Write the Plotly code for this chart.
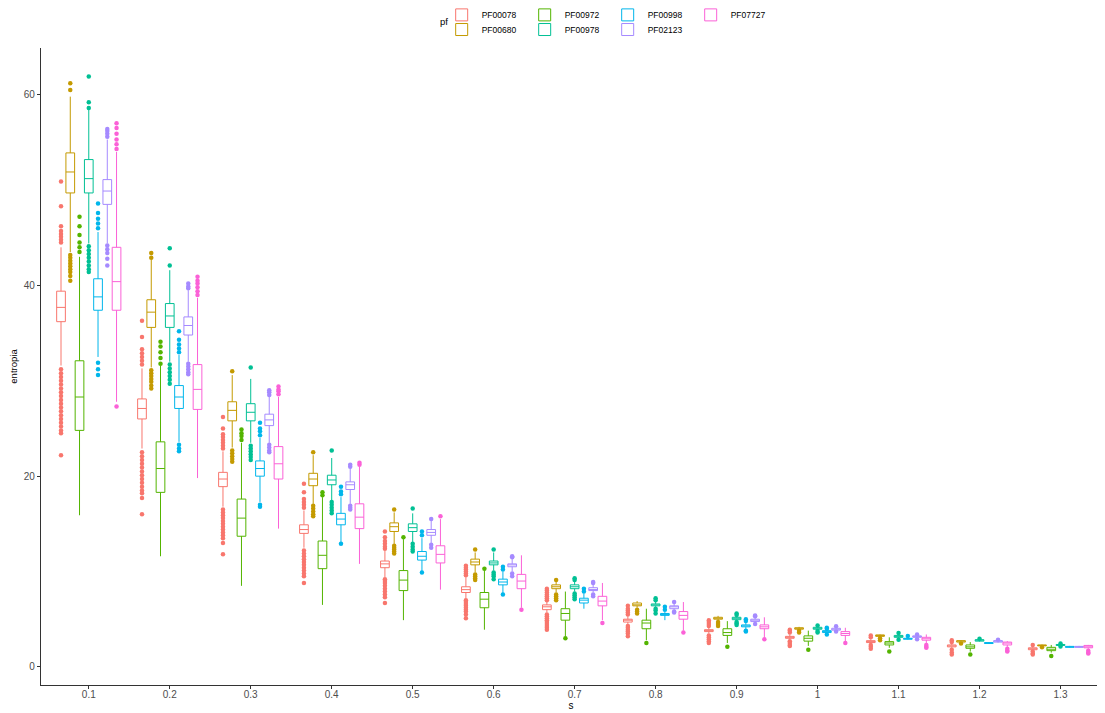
import plotly.graph_objects as go

s_labels = ["0.1", "0.2", "0.3", "0.4", "0.5", "0.6", "0.7", "0.8", "0.9", "1", "1.1", "1.2", "1.3"]
pf_names = ["PF00078", "PF00680", "PF00972", "PF00978", "PF00998", "PF02123", "PF07727"]
pf_colors = ["#F8766D", "#C49A00", "#53B400", "#00C094", "#00B6EB", "#A58AFF", "#FB61D7"]

# ---- PF00078 ----
PF00078_q1 = [36.2, 26.0, 18.9, 14.0, 10.4, 7.8, 6.0, 4.7, 3.7, 3.0, 2.55, 2.1, 1.8]
PF00078_med = [37.7, 27.1, 19.7, 14.4, 10.8, 8.1, 6.3, 4.9, 3.8, 3.1, 2.65, 2.2, 1.9]
PF00078_q3 = [39.4, 28.1, 20.4, 14.9, 11.1, 8.4, 6.5, 5.0, 3.9, 3.2, 2.75, 2.3, 2.0]
PF00078_lo = [31.6, 22.9, 16.8, 12.5, 9.4, 7.2, 5.7, 4.5, 3.5, 2.9, 2.45, 2.0, 1.7]
PF00078_hi = [44.0, 31.3, 22.6, 16.4, 12.2, 9.4, 6.8, 5.3, 4.1, 3.4, 2.9, 2.45, 2.1]
PF00078_out = [
    [44.5, 44.8, 45.1, 45.4, 45.7, 46.2, 48.3, 50.9, 31.2, 30.8, 30.4, 30.0, 29.6, 29.2, 28.8, 28.4,
     28.0, 27.6, 27.2, 26.8, 26.4, 26.0, 25.6, 25.2, 24.8, 24.5, 22.2],
    [31.7, 32.1, 32.5, 32.9, 33.3, 34.6, 36.3, 22.5, 22.1, 21.7, 21.3, 20.9, 20.5, 20.1, 19.7, 19.3,
     18.9, 18.5, 18.2, 17.7, 16.0],
    [22.9, 23.2, 23.5, 23.8, 24.1, 24.4, 25.0, 26.2, 16.5, 16.2, 15.9, 15.6, 15.3, 15.0, 14.7, 14.4,
     14.1, 13.8, 13.5, 13.0, 11.8],
    [16.7, 17.0, 17.3, 17.6, 18.3, 19.2, 12.2, 11.9, 11.6, 11.3, 11.0, 10.7, 10.4, 10.1, 9.8, 9.5, 8.8],
    [12.4, 12.6, 12.9, 13.2, 13.6, 14.2, 9.2, 9.0, 8.8, 8.5, 8.2, 7.9, 7.6, 7.3, 6.7],
    [9.6, 9.8, 10.0, 10.2, 10.4, 10.6, 7.0, 6.8, 6.6, 6.4, 6.2, 6.0, 5.8, 5.5, 5.1],
    [7.0, 7.2, 7.4, 7.6, 7.8, 8.0, 8.2, 5.5, 5.3, 5.1, 4.9, 4.7, 4.5, 4.3, 4.1, 3.9],
    [5.5, 5.7, 5.9, 6.1, 6.4, 4.3, 4.1, 3.9, 3.7, 3.5, 3.2],
    [4.3, 4.5, 4.7, 4.9, 3.3, 3.1, 2.9, 2.7, 2.5],
    [3.6, 3.8, 3.9, 2.7, 2.5, 2.3, 2.2],
    [3.1, 3.3, 2.3, 2.1, 1.9],
    [2.6, 2.8, 1.8, 1.5, 1.3],
    [2.3, 1.6, 1.4, 1.3],
]

# ---- PF00680 ----
PF00680_q1 = [49.7, 35.6, 25.8, 19.0, 14.2, 10.7, 8.2, 6.4, 5.0, 3.95, 3.2, 2.6, 2.2]
PF00680_med = [51.9, 37.2, 26.9, 19.7, 14.7, 11.0, 8.4, 6.5, 5.1, 4.05, 3.3, 2.7, 2.25]
PF00680_q3 = [53.9, 38.5, 27.8, 20.3, 15.1, 11.3, 8.6, 6.7, 5.2, 4.1, 3.35, 2.75, 2.3]
PF00680_lo = [43.5, 31.4, 23.0, 17.1, 12.9, 9.9, 7.8, 6.2, 4.9, 3.9, 3.15, 2.55, 2.15]
PF00680_hi = [59.8, 42.7, 30.6, 22.2, 16.2, 12.0, 9.0, 6.9, 5.35, 4.2, 3.4, 2.8, 2.35]
PF00680_out = [
    [60.5, 61.2, 43.2, 42.9, 42.6, 42.3, 42.0, 41.7, 41.4, 41.0, 40.5],
    [42.9, 43.4, 31.1, 30.8, 30.5, 30.2, 29.9, 29.5, 29.2],
    [31.0, 22.7, 22.4, 22.1, 21.8, 21.5],
    [22.5, 16.9, 16.6, 16.3, 16.0, 15.8],
    [16.5, 12.7, 12.5, 12.3, 12.1, 11.9],
    [12.3, 9.7, 9.5, 9.3, 9.1],
    [9.1, 7.6, 7.4, 7.2, 7.0],
    [6.0, 5.8, 5.6],
    [4.7, 4.5, 4.3],
    [3.8, 3.6],
    [3.0, 2.8],
    [2.45],
    [2.05],
]

# ---- PF00972 ----
PF00972_q1 = [24.8, 18.3, 13.7, 10.3, 8.0, 6.2, 4.9, 4.0, 3.3, 2.7, 2.3, 1.95, 1.7]
PF00972_med = [28.3, 20.8, 15.6, 11.7, 9.1, 7.1, 5.6, 4.6, 3.6, 3.0, 2.5, 2.1, 1.85]
PF00972_q3 = [32.1, 23.6, 17.6, 13.2, 10.1, 7.8, 6.1, 4.9, 4.0, 3.25, 2.65, 2.3, 2.05]
PF00972_lo = [15.9, 11.6, 8.5, 6.5, 4.9, 3.9, 3.2, 2.8, 2.5, 2.2, 2.0, 1.6, 1.5]
PF00972_hi = [43.0, 31.6, 23.5, 17.8, 13.4, 10.1, 7.9, 6.1, 4.8, 3.8, 3.1, 2.6, 2.3]
PF00972_out = [
    [43.5, 44.0, 44.5, 45.3, 46.2, 47.2],
    [31.8, 32.4, 33.0, 33.6, 34.1],
    [23.8, 24.2, 24.5, 24.9],
    [18.0, 18.3],
    [13.6],
    [10.3],
    [3.0],
    [2.5],
    [2.1],
    [1.8],
    [1.6],
    [1.3],
    [1.15],
]

# ---- PF00978 ----
PF00978_q1 = [49.7, 35.6, 25.8, 19.1, 14.2, 10.7, 8.2, 6.4, 4.95, 3.95, 3.1, 2.7, 2.25]
PF00978_med = [51.2, 36.8, 26.7, 19.6, 14.6, 10.9, 8.4, 6.5, 5.1, 4.05, 3.2, 2.8, 2.3]
PF00978_q3 = [53.2, 38.1, 27.6, 20.1, 15.0, 11.1, 8.6, 6.6, 5.2, 4.15, 3.3, 2.85, 2.35]
PF00978_lo = [44.4, 32.0, 23.5, 17.5, 13.1, 10.1, 7.9, 6.3, 4.9, 3.9, 3.0, 2.65, 2.2]
PF00978_hi = [58.4, 41.6, 30.2, 21.9, 16.1, 12.0, 8.9, 6.8, 5.3, 4.2, 3.4, 2.9, 2.4]
PF00978_out = [
    [58.6, 59.2, 61.9, 44.1, 43.7, 43.3, 42.9, 42.5, 42.1, 41.7, 41.4],
    [42.1, 43.9, 31.7, 31.3, 30.9, 30.5, 30.1, 29.7],
    [31.4, 23.2, 22.9, 22.6, 22.3, 22.0, 21.7],
    [22.7, 17.3, 17.0, 16.7, 16.4, 16.1],
    [16.6, 12.9, 12.6, 12.3, 12.1],
    [12.3, 9.9, 9.7, 9.5, 9.2],
    [9.1, 9.3, 7.7, 7.5, 7.3, 7.1],
    [7.0, 7.2, 6.1, 5.9, 5.6],
    [5.45, 5.6, 4.7, 4.55, 4.4],
    [4.35, 3.75, 3.6],
    [3.55, 2.85],
    [2.95],
    [2.45, 2.15],
]

# ---- PF00998 ----
PF00998_q1 = [37.4, 27.1, 20.0, 14.9, 11.2, 8.6, 6.7, 5.4, 4.2, 3.6, 2.9, 2.45, 2.05]
PF00998_med = [38.8, 28.3, 20.8, 15.5, 11.6, 8.9, 7.0, 5.5, 4.3, 3.7, 2.95, 2.5, 2.1]
PF00998_q3 = [40.7, 29.5, 21.6, 16.1, 12.1, 9.2, 7.2, 5.6, 4.4, 3.8, 3.0, 2.55, 2.15]
PF00998_lo = [32.5, 23.6, 17.3, 13.0, 10.0, 7.7, 6.1, 4.9, 3.9, 3.5, 2.85, 2.4, 2.0]
PF00998_hi = [45.6, 32.7, 24.0, 17.8, 13.5, 10.0, 7.7, 5.8, 4.6, 3.9, 3.1, 2.6, 2.2]
PF00998_out = [
    [46.0, 46.5, 47.0, 47.6, 48.6, 31.9, 31.2, 30.6],
    [33.0, 33.4, 33.8, 34.3, 35.2, 23.3, 22.9, 22.6],
    [24.3, 24.7, 25.0, 25.6, 17.0, 16.8],
    [18.1, 18.4, 18.9, 12.9],
    [13.8, 14.2, 9.9],
    [10.2, 10.5, 7.6],
    [7.9, 8.2],
    [6.0, 6.3],
    [4.8, 5.0, 3.8, 3.7],
    [4.0, 4.1, 3.4],
    [3.25],
    [],
    [],
]

# ---- PF02123 ----
PF02123_q1 = [48.5, 34.8, 25.3, 18.6, 13.8, 10.5, 8.0, 6.1, 4.75, 3.85, 3.1, 2.6, 2.05]
PF02123_med = [49.9, 35.8, 25.9, 19.1, 14.1, 10.7, 8.1, 6.3, 4.9, 4.0, 3.2, 2.7, 2.1]
PF02123_q3 = [51.1, 36.7, 26.5, 19.4, 14.4, 10.8, 8.3, 6.4, 5.0, 4.05, 3.25, 2.75, 2.15]
PF02123_lo = [44.4, 32.0, 23.5, 17.1, 13.0, 10.0, 7.8, 6.0, 4.65, 3.8, 3.0, 2.55, 2.0]
PF02123_hi = [55.3, 39.5, 28.3, 20.8, 15.3, 11.3, 8.6, 6.6, 5.15, 4.15, 3.3, 2.8, 2.2]
PF02123_out = [
    [55.6, 55.9, 56.2, 56.4, 44.2, 43.8, 43.4, 42.8, 42.1],
    [39.7, 39.9, 40.2, 31.8, 31.5, 31.2, 30.9, 30.7],
    [28.5, 28.8, 29.0, 23.3, 23.0, 22.7, 22.5],
    [21.0, 21.2, 16.9, 16.7, 16.5],
    [15.5, 12.8, 12.5],
    [11.5, 11.6, 9.8, 9.5],
    [8.8, 8.9, 7.6, 7.4],
    [6.8, 5.8, 5.7],
    [5.3, 5.4, 4.5],
    [4.25, 3.7],
    [3.4, 2.9],
    [2.85],
    [],
]

# ---- PF07727 ----
PF07727_q1 = [37.4, 27.0, 19.7, 14.5, 10.9, 8.2, 6.4, 5.0, 4.0, 3.3, 2.8, 2.3, 2.0]
PF07727_med = [40.4, 29.1, 21.3, 15.7, 11.8, 9.0, 6.9, 5.4, 4.2, 3.5, 2.95, 2.5, 2.1]
PF07727_q3 = [44.0, 31.7, 23.1, 17.1, 12.7, 9.7, 7.4, 5.8, 4.4, 3.7, 3.1, 2.6, 2.25]
PF07727_lo = [27.8, 19.8, 14.5, 10.8, 8.1, 6.2, 4.9, 3.8, 3.1, 2.7, 2.5, 2.1, 1.9]
PF07727_hi = [54.0, 38.7, 28.3, 21.0, 15.5, 11.7, 8.8, 6.8, 5.2, 4.1, 3.4, 2.7, 2.3]
PF07727_out = [
    [54.3, 54.8, 55.3, 55.9, 56.5, 57.0, 27.3],
    [39.0, 39.4, 39.8, 40.2, 40.5, 40.9],
    [28.6, 28.9, 29.1, 29.4],
    [21.2, 21.4],
    [15.8],
    [6.0],
    [4.6],
    [3.6],
    [2.9],
    [2.5],
    [2.3, 2.1, 2.0],
    [1.9, 1.7, 1.6],
    [1.7, 1.5, 1.4],
]

stats = {
    "PF00078": (PF00078_q1, PF00078_med, PF00078_q3, PF00078_lo, PF00078_hi, PF00078_out),
    "PF00680": (PF00680_q1, PF00680_med, PF00680_q3, PF00680_lo, PF00680_hi, PF00680_out),
    "PF00972": (PF00972_q1, PF00972_med, PF00972_q3, PF00972_lo, PF00972_hi, PF00972_out),
    "PF00978": (PF00978_q1, PF00978_med, PF00978_q3, PF00978_lo, PF00978_hi, PF00978_out),
    "PF00998": (PF00998_q1, PF00998_med, PF00998_q3, PF00998_lo, PF00998_hi, PF00998_out),
    "PF02123": (PF02123_q1, PF02123_med, PF02123_q3, PF02123_lo, PF02123_hi, PF02123_out),
    "PF07727": (PF07727_q1, PF07727_med, PF07727_q3, PF07727_lo, PF07727_hi, PF07727_out),
}

# legend layout like ggplot (column-major, 4 columns x 2 rows)
row1 = ["PF00078", "PF00972", "PF00998", "PF07727"]

fig = go.Figure()
for pf, col in zip(pf_names, pf_colors):
    q1, med, q3, lo, hi, out = stats[pf]
    leg = "legend" if pf in row1 else "legend2"
    fig.add_trace(go.Box(
        x=s_labels, q1=q1, median=med, q3=q3, lowerfence=lo, upperfence=hi,
        name=pf, legendgroup=pf, legend=leg,
        line=dict(color=col, width=1), fillcolor="white", marker=dict(color=col),
        whiskerwidth=0, boxpoints=False, hoverinfo="y",
    ))
for pf, col in zip(pf_names, pf_colors):
    out = stats[pf][5]
    xs = [s_labels[j] for j, vals in enumerate(out) for _ in vals]
    ys = [v for vals in out for v in vals]
    fig.add_trace(go.Scatter(
        x=xs, y=ys, mode="markers", name=pf, legendgroup=pf, showlegend=False,
        marker=dict(color=col, size=4.5, line=dict(width=0)),
    ))

font_family = "Liberation Sans, Arial, sans-serif"
legend_common = dict(orientation="h", xanchor="left", yanchor="middle",
                     font=dict(size=8.5, color="#000000"), itemwidth=30, entrywidth=38,
                     bgcolor="rgba(0,0,0,0)", tracegroupgap=0, borderwidth=0)
fig.update_layout(
    width=1097, height=705,
    paper_bgcolor="white", plot_bgcolor="white",
    margin=dict(l=33, r=4, t=40, b=28, autoexpand=False),
    font=dict(family=font_family, size=9.5, color="#000000"),
    boxmode="group", boxgap=0.2, boxgroupgap=0.06,
    scattermode="group", scattergap=0.2,
    showlegend=True,
    legend=dict(x=0.378, y=1.052, **legend_common),
    legend2=dict(x=0.378, y=1.029, **legend_common),
    annotations=[dict(text="pf", xref="paper", yref="paper", x=0.386, y=1.041,
                      xanchor="right", yanchor="middle", showarrow=False,
                      font=dict(size=9.5, color="#000000"))],
)
fig.update_xaxes(
    type="category", categoryorder="array", categoryarray=s_labels,
    range=[-0.59, 12.5], showgrid=False, zeroline=False,
    showline=True, linecolor="#333333", linewidth=1.2,
    ticks="outside", ticklen=3, tickcolor="#333333", tickwidth=1,
    ticklabelstandoff=-3,
    tickfont=dict(size=10, color="#4D4D4D"),
    title=dict(text="s", font=dict(size=10, color="#000000"), standoff=0),
)
fig.update_yaxes(
    range=[-1.9, 64.9], tickvals=[0, 20, 40, 60], showgrid=False, zeroline=False,
    showline=True, linecolor="#333333", linewidth=1.2,
    ticks="outside", ticklen=3, tickcolor="#333333", tickwidth=1,
    tickfont=dict(size=10, color="#4D4D4D"),
    title=dict(text="entropia", font=dict(size=9.5, color="#000000"), standoff=4),
)

fig.write_html("out.html")
